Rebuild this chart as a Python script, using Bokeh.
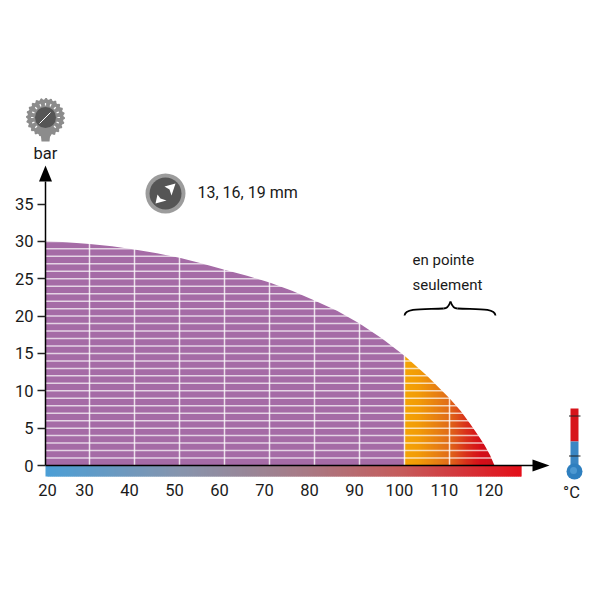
import numpy as np
from bokeh.plotting import figure
from bokeh.models import Range1d, LinearAxis, FixedTicker
from bokeh.embed import file_html
from bokeh.resources import INLINE
from bokeh.core.properties import value

# ---- data ----
temps = [20.2, 25, 30, 35, 40, 45, 50, 55, 60, 65, 70, 75, 80, 85, 90, 95, 100, 105, 110, 112.5, 114.7, 116.5, 117.8, 119, 120]
bars = [30.05, 29.9, 29.65, 29.35, 28.9, 28.4, 27.8, 27.05, 26.2, 25.4, 24.5, 23.4, 22.1, 20.7, 19.0, 17.0, 14.7, 12.0, 9.0, 7.3, 5.5, 3.9, 2.7, 1.4, 0.0]
x_ticks = [30, 40, 50, 60, 70, 80, 90, 100, 110, 120]
y_ticks = [0, 5, 10, 15, 20, 25, 30, 35]
PEAK_FROM = 100
PEAK_TO = 120
TICK_TEXT = "13, 16, 19 mm"
FONT = "Roboto"
FONT_SIZE = "16.5px"

PX_DEG = 4.5
PX_BAR = 7.47


def X(px):
    return 30 + (np.asarray(px, dtype=float) - 89) / PX_DEG


def Y(py):
    return (465 - np.asarray(py, dtype=float)) / PX_BAR


def lerp_colors(stops, n):
    pos = [s[0] for s in stops]
    t = np.linspace(0, 1, n)
    ch = [np.interp(t, pos, [int(s[1][i:i + 2], 16) for s in stops]) for i in (1, 3, 5)]
    return ["#%02x%02x%02x" % (int(r), int(g), int(b)) for r, g, b in zip(*ch)]


x0, x1 = float(X(0)), float(X(584))
p = figure(width=584, height=584, x_range=Range1d(x0, x1), y_range=Range1d(float(Y(584)), float(Y(0))),
           x_axis_type=None, y_axis_type=None, toolbar_location=None, output_backend="svg",
           min_border=0, outline_line_color=None)
p.grid.visible = False
p.background_fill_color = "white"
p.border_fill_color = "white"

# purple body
AX = float(X(45))
p.quad(left=AX, right=PEAK_FROM, bottom=0, top=31, fill_color="#A56BA6", line_color=None)
# peak gradient
n = 90
edges = np.linspace(PEAK_FROM, PEAK_TO + 1, n + 1)
peak_cols = lerp_colors([(0, "#F5A406"), (0.14, "#F29C08"), (0.45, "#E2701A"), (0.66, "#D9301C"), (0.8, "#D6101A"), (1, "#C80F18")], n)
p.quad(left=edges[:-1], right=edges[1:] + 0.4, bottom=0, top=16, fill_color=peak_cols, line_color=None)
# white lines
hy = np.arange(1, 31)
p.segment(x0=[AX] * len(hy), y0=hy, x1=[PEAK_TO + 1] * len(hy), y1=hy, line_color="#FFFFFF", line_alpha=0.7, line_width=1.5)
vx = [t for t in x_ticks if t < 120]
p.segment(x0=vx, y0=[0] * len(vx), x1=vx, y1=[31] * len(vx), line_color="#FFFFFF", line_alpha=0.8, line_width=1.5)
# mask above curve
mx = list(temps) + [x1, x1, AX]
my = list(bars) + [0, 32, 32]
p.patch(mx, my, fill_color="white", line_color=None)

# gradient bar below the axis
n = 238
edges = np.linspace(X(45), X(521), n + 1)
bar_cols = lerp_colors([(0, "#4C9FD6"), (0.28, "#8795AE"), (0.55, "#A97A85"), (0.75, "#C65C5C"), (1, "#E4101A")], n)
p.quad(left=edges[:-1], right=list(edges[1:-1] + 0.4) + [edges[-1]], bottom=float(Y(476)), top=0, fill_color=bar_cols, line_color=None)

# axes
yaxis = LinearAxis(fixed_location=AX, ticker=FixedTicker(ticks=y_ticks), bounds=(0, float(Y(181))),
                   axis_line_color="black", axis_line_width=1.5,
                   major_tick_out=8, major_tick_in=0, major_tick_line_color="#222222", major_tick_line_width=1.5,
                   minor_tick_out=0, minor_tick_in=0,
                   major_label_text_font=FONT, major_label_text_font_size=FONT_SIZE,
                   major_label_text_color="#1a1a1a", major_label_standoff=4)
p.add_layout(yaxis, "left")

SHIFT = 5 / PX_DEG
p.extra_x_ranges["labels"] = Range1d(x0 + SHIFT, x1 + SHIFT)
first = round(float(X(47)) + SHIFT, 2)
xaxis = LinearAxis(x_range_name="labels", fixed_location=0, ticker=FixedTicker(ticks=[first] + x_ticks),
                   major_label_overrides={first: "20"},
                   bounds=(float(X(45)) + SHIFT, float(X(535)) + SHIFT),
                   axis_line_color="black", axis_line_width=1.5,
                   major_tick_out=0, major_tick_in=0, minor_tick_out=0, minor_tick_in=0,
                   major_label_text_font=FONT, major_label_text_font_size=FONT_SIZE,
                   major_label_text_color="#1a1a1a", major_label_standoff=18)
p.add_layout(xaxis, "below")

# arrow heads
p.patch(X([45, 38.5, 51.5]), Y([165, 181, 181]), fill_color="black", line_color=None)
p.patch(X([549, 532, 532]), Y([465, 459, 471]), fill_color="black", line_color=None)


def txt(px, py, s, align="left", size=FONT_SIZE):
    p.text(x=[float(X(px))], y=[float(Y(py))], text=[s], text_font=value(FONT), text_font_size=value(size),
           text_color="#1a1a1a", text_align=align, text_baseline="middle")


txt(45, 153, "bar", "center")
txt(197, 192, TICK_TEXT, size="16px")
txt(412, 259, "en pointe", size="15px")
txt(412, 284, "seulement", size="15px")
txt(571, 492, "°C", "center")

# brace
p.bezier(x0=X([404, 443, 450, 457]), y0=Y([315, 308, 301, 308]),
         x1=X([443, 450, 457, 495]), y1=Y([308, 301, 308, 315]),
         cx0=X([405, 448, 451, 475]), cy0=Y([307, 308, 304, 309]),
         cx1=X([425, 449, 452, 494]), cy1=Y([309, 304, 308, 307]),
         line_color="black", line_width=1.8)

# gauge icon
gc = (45, 117)
ang = np.linspace(0, 2 * np.pi, 97)[:-1]
rad = np.where(np.arange(96) % 4 < 2, 19.5, 18)
p.patch(X(gc[0] + rad * np.cos(ang)), Y(gc[1] + rad * np.sin(ang)), fill_color="#8C8C8C", line_color=None)
p.patch(X([40, 50, 49, 41]), Y([132, 132, 141, 141]), fill_color="#8C8C8C", line_color=None)
p.scatter(X([gc[0]]), Y([gc[1]]), size=21, fill_color="#555555", line_color=None)
ta = np.radians(np.arange(135, 406, 22.5))
p.segment(X(gc[0] + 12 * np.cos(ta)), Y(gc[1] + 12 * np.sin(ta)), X(gc[0] + 14.5 * np.cos(ta)), Y(gc[1] + 14.5 * np.sin(ta)),
          line_color="white", line_width=1.2)
p.segment(X([39]), Y([123]), X([50]), Y([112]), line_color="white", line_width=1)

# compress icon
p.scatter(X([165]), Y([193]), size=40, fill_color="#9C9C9C", line_color=None)
p.scatter(X([165]), Y([193]), size=32, fill_color="#555555", line_color=None)
p.patch(X([175, 164, 169, 171]), Y([183, 186, 189, 195]), fill_color="white", line_color=None)
p.patch(X([155, 157, 160, 166]), Y([203, 194, 198, 200]), fill_color="white", line_color=None)

# thermometer
p.quad(left=X(570), right=X(578), bottom=Y(441), top=Y(408), fill_color="#D7141A", line_color=None)
p.quad(left=X(570), right=X(578), bottom=Y(468), top=Y(441), fill_color="#3A86C3", line_color=None)
p.scatter(X([574]), Y([471]), size=16, fill_color="#2E7FBF", line_color=None)
p.scatter(X([573]), Y([470]), size=7, fill_color="#5AA2D8", line_color=None, fill_alpha=0.7)
p.segment(X([568.5, 568.5]), Y([415.5, 455.5]), X([580, 580]), Y([415.5, 455.5]), line_color="#222222", line_width=1)

open("out.html", "w").write(file_html(p, INLINE))
